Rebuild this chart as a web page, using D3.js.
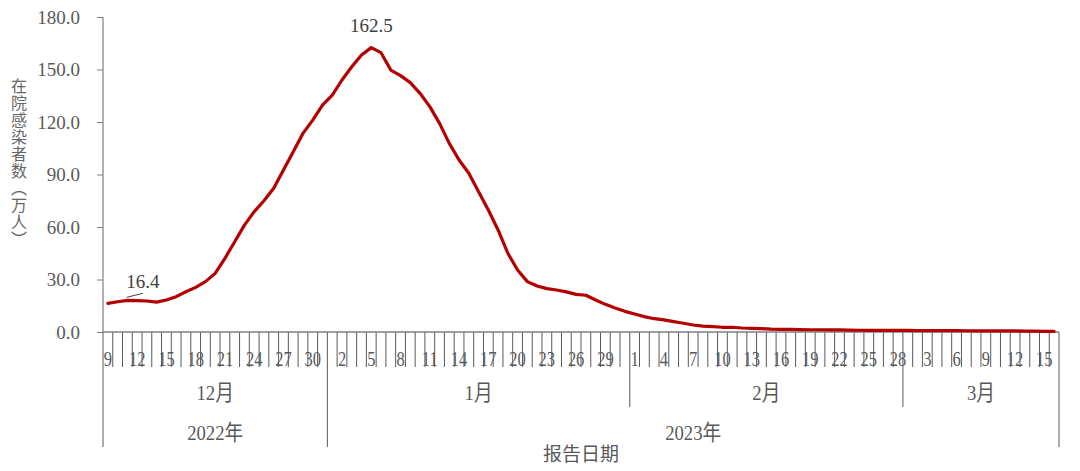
<!DOCTYPE html>
<html>
<head>
<meta charset="utf-8">
<script src="https://cdn.jsdelivr.net/npm/d3@7"></script>
<style>
  html, body { margin: 0; padding: 0; background: #fff; }
  svg { display: block; }
</style>
</head>
<body>
<svg id="chart" width="1080" height="471"></svg>
<script>
// ---------- data ----------
const monthNames = ["12月", "1月", "2月", "3月"];
const monthDays = [d3.range(9, 32), d3.range(1, 32), d3.range(1, 29), d3.range(1, 17)];
const yearNames = ["2022年", "2023年"];
const yearMonthCounts = [1, 3];
const values = [
  16.4, 17.3, 18.1, 17.9, 17.7, 17.1, 18.3, 20.2, 23.0, 25.5,
  28.8, 33.5, 42.1, 51.6, 61.1, 68.8, 75.0, 82.1, 92.6, 103.0,
  113.5, 121.1, 129.7, 135.4, 144.0, 151.6, 158.3, 162.5, 159.6, 149.7,
  146.5, 142.5, 136.4, 128.8, 119.2, 107.8, 98.3, 90.7, 80.2, 69.7,
  58.3, 45.0, 35.4, 28.8, 26.3, 24.8, 24.0, 22.9, 21.5, 21.0,
  18.3, 15.8, 13.7, 11.8, 10.3, 8.8, 7.6, 6.9, 5.9, 5.0,
  4.0, 3.4, 3.1, 2.7, 2.7, 2.3, 2.1, 1.9, 1.6, 1.5,
  1.5, 1.4, 1.3, 1.3, 1.2, 1.2, 1.1, 1.0, 0.9, 0.9,
  0.9, 0.9, 0.9, 0.8, 0.8, 0.8, 0.8, 0.8, 0.7, 0.7,
  0.7, 0.7, 0.6, 0.6, 0.5, 0.5, 0.4, 0.4
];
const yTicks = [0, 30, 60, 90, 120, 150, 180];
const labelledPoints = [0, 27];
const yTitle = "在院感染者数（万人）";
const xTitle = "报告日期";
const tickLabelStep = 3;

// ---------- build categories ----------
const cats = [];
monthDays.forEach((days, m) => days.forEach(d => cats.push({ month: m, day: d })));
const n = cats.length;

const svg = d3.select("#chart");
const serif = "'Liberation Serif', 'Times New Roman', 'Noto Sans CJK SC', serif";
const cjk = "'Noto Sans CJK SC', sans-serif";
const textCol = "#595959";

const x = d3.scaleBand().domain(d3.range(n)).range([103, 1059]).padding(0);
const y = d3.scaleLinear().domain([0, 180]).range([332, 17]);
const bw = x.step();
const cx = i => x(i) + bw / 2;
const bx = k => (k < n ? x(k) : x.range()[1]);

// ---------- y axis ----------
const yAxis = d3.axisLeft(y).tickValues(yTicks).tickSize(6).tickPadding(17)
  .tickFormat(d => d.toFixed(1));
const gy = svg.append("g").attr("transform", `translate(${x.range()[0]},0)`).call(yAxis);
gy.select(".domain").remove();
gy.selectAll(".tick line").attr("stroke", "#7f7f7f").attr("stroke-width", 1);
gy.selectAll(".tick text").attr("fill", textCol).style("font-family", serif).style("font-size", "19px");

// ---------- x axis structure ----------
const monthStarts = [];
let acc = 0;
monthDays.forEach(d => { monthStarts.push(acc); acc += d.length; });
const monthEnds = monthStarts.map((s, m) => s + monthDays[m].length);
const yearStarts = [];
let mAcc = 0;
yearMonthCounts.forEach(c => { yearStarts.push(monthStarts[mAcc]); mAcc += c; });
const yearEnds = yearStarts.map((s, k) => (k + 1 < yearStarts.length ? yearStarts[k + 1] : n));

const gx = svg.append("g");
const boundaries = d3.range(n + 1);
const yBase = y(0);
gx.selectAll("line.b").data(boundaries).join("line")
  .attr("x1", k => bx(k)).attr("x2", k => bx(k))
  .attr("y1", yBase)
  .attr("y2", k => {
    if (yearStarts.includes(k) || k === n) return 447;
    if (monthStarts.includes(k)) return 407;
    return 367;
  })
  .attr("stroke", "#595959").attr("stroke-width", 1);

// left axis line
svg.append("line")
  .attr("x1", x.range()[0]).attr("x2", x.range()[0])
  .attr("y1", y(180)).attr("y2", yBase)
  .attr("stroke", "#7f7f7f").attr("stroke-width", 1.2);
// bottom axis line
svg.append("line")
  .attr("x1", x.range()[0]).attr("x2", x.range()[1])
  .attr("y1", yBase).attr("y2", yBase)
  .attr("stroke", "#7f7f7f").attr("stroke-width", 1.5);

// day tick labels
const tickIdx = d3.range(0, n, tickLabelStep);
gx.selectAll("g.tl").data(tickIdx).join("g")
  .attr("transform", i => `translate(${cx(i)},366) scale(0.75,1)`)
  .append("text")
  .attr("text-anchor", "middle")
  .attr("fill", textCol)
  .style("font-family", serif).style("font-size", "22px")
  .text(i => cats[i].day);

// month labels
gx.selectAll("g.ml").data(monthNames).join("g")
  .attr("transform", (d, m) => `translate(${(bx(monthStarts[m]) + bx(monthEnds[m])) / 2},400) scale(0.85,1)`)
  .append("text")
  .attr("text-anchor", "middle").attr("fill", textCol)
  .style("font-family", serif).style("font-size", "22px")
  .text(d => d);

// year labels
gx.selectAll("g.yl").data(yearNames).join("g")
  .attr("transform", (d, k) => `translate(${(bx(yearStarts[k]) + bx(yearEnds[k])) / 2},440) scale(0.85,1)`)
  .append("text")
  .attr("text-anchor", "middle").attr("fill", textCol)
  .style("font-family", serif).style("font-size", "22px")
  .text(d => d);

// x title
svg.append("text")
  .attr("x", (x.range()[0] + x.range()[1]) / 2).attr("y", 461)
  .attr("text-anchor", "middle").attr("fill", textCol)
  .style("font-family", cjk).style("font-size", "19px")
  .text(xTitle);

// y title (vertical)
svg.append("text")
  .attr("x", 19).attr("y", 163)
  .attr("text-anchor", "middle").attr("fill", "#666666")
  .style("writing-mode", "vertical-rl")
  .style("letter-spacing", "1px")
  .style("font-family", cjk).style("font-size", "16px")
  .text(yTitle);

// ---------- line ----------
const line = d3.line().x((d, i) => cx(i)).y(d => y(d)).curve(d3.curveLinear);
svg.append("path")
  .datum(values)
  .attr("d", line)
  .attr("fill", "none")
  .attr("stroke", "#B40000")
  .attr("stroke-width", 3.2)
  .attr("stroke-linejoin", "round")
  .attr("stroke-linecap", "round");

// ---------- data labels ----------
const i0 = labelledPoints[0];
svg.append("line")
  .attr("x1", cx(i0) + 19).attr("y1", y(values[i0]) - 6)
  .attr("x2", cx(i0) + 35).attr("y2", y(values[i0]) - 10)
  .attr("stroke", "#404040").attr("stroke-width", 1);
svg.append("text")
  .attr("x", cx(i0) + 35).attr("y", y(values[i0]) - 15)
  .attr("text-anchor", "middle").attr("fill", "#404040")
  .style("font-family", serif).style("font-size", "19px")
  .text(values[i0].toFixed(1));
const ip = labelledPoints[1];
svg.append("text")
  .attr("x", cx(ip)).attr("y", y(values[ip]) - 16)
  .attr("text-anchor", "middle").attr("fill", "#404040")
  .style("font-family", serif).style("font-size", "19px")
  .text(values[ip].toFixed(1));
</script>
</body>
</html>
